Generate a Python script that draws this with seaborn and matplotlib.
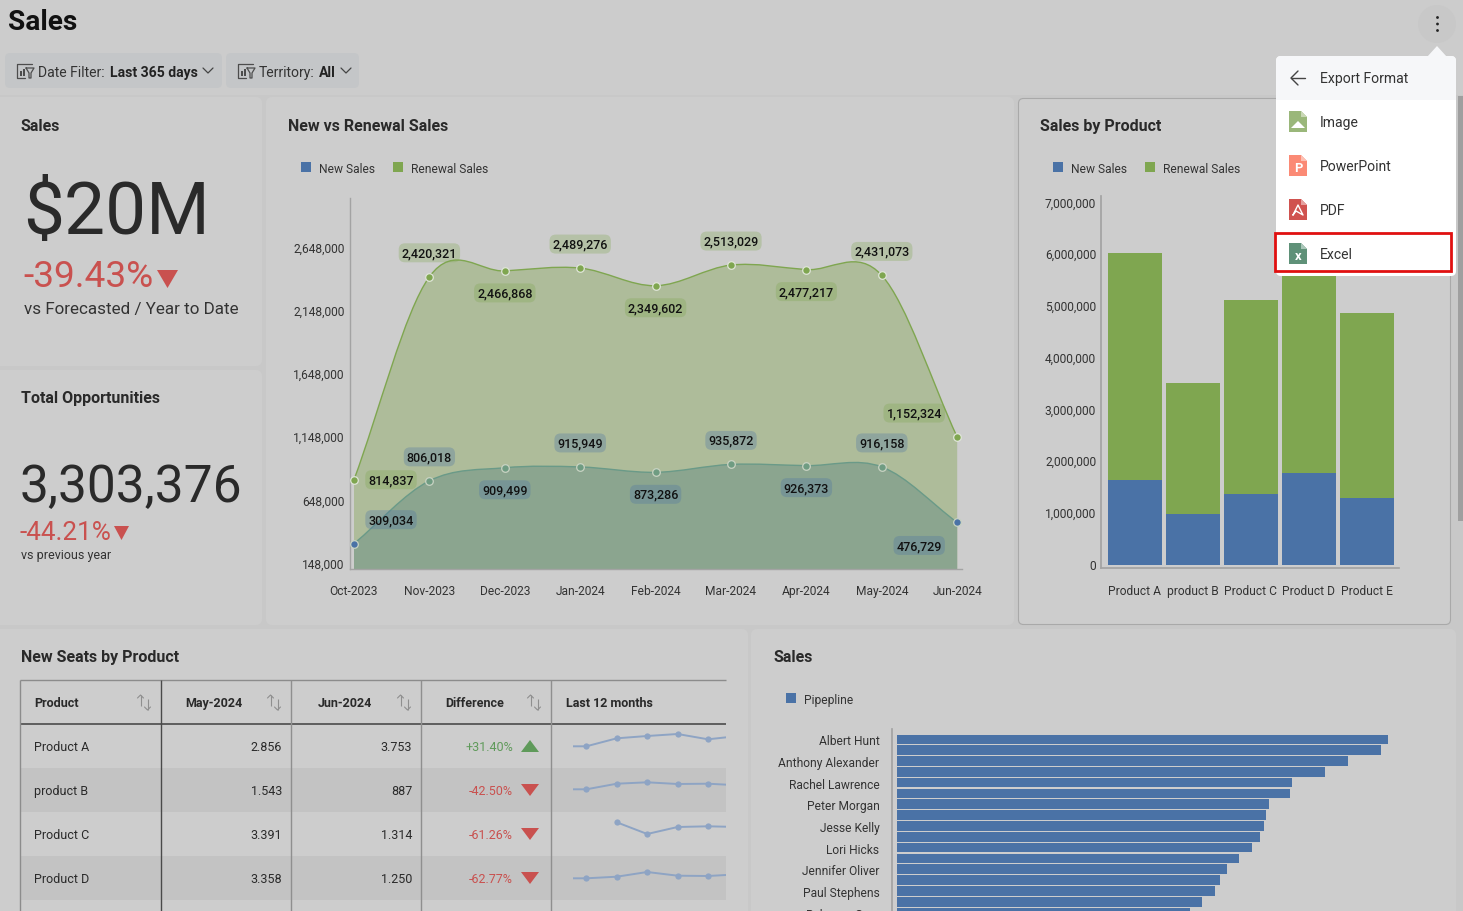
import numpy as np
import pandas as pd
import matplotlib
matplotlib.use("Agg")
import matplotlib.pyplot as plt
import seaborn as sns
from matplotlib.patches import FancyBboxPatch, PathPatch, Polygon, Rectangle, Circle
from matplotlib.path import Path
from matplotlib.transforms import ScaledTranslation


W, H = 1463, 912

months = ["Oct-2023", "Nov-2023", "Dec-2023", "Jan-2024", "Feb-2024",
          "Mar-2024", "Apr-2024", "May-2024", "Jun-2024"]
renewal_sales = [814837, 2420321, 2466868, 2489276, 2349602,
                 2513029, 2477217, 2431073, 1152324]
new_sales = [309034, 806018, 909499, 915949, 873286,
             935872, 926373, 916158, 476729]
area_ticks = [148000, 648000, 1148000, 1648000, 2148000, 2648000]

products = ["Product A", "product B", "Product C", "Product D", "Product E"]
product_new = [1644000, 986000, 1373000, 1780000, 1296000]
product_renewal = [4391000, 2534000, 3753000, 4120000, 3578000]
product_ticks = [0, 1000000, 2000000, 3000000, 4000000, 5000000, 6000000, 7000000]

table_products = ["Product A", "product B", "Product C", "Product D"]
may_seats = ["2.856", "1.543", "3.391", "3.358"]
jun_seats = ["3.753", "887", "1.314", "1.250"]
seat_diff = ["+31.40%", "-42.50%", "-61.26%", "-62.77%"]
table_headers = ["Product", "May-2024", "Jun-2024", "Difference", "Last 12 months"]

spark_a = [2.17, 2.17, 2.97, 3.20, 3.40, 2.87, 3.20]
spark_b = [2.27, 2.27, 2.83, 2.97, 2.80, 2.83, 2.67]
spark_c = [np.nan, np.nan, 3.37, 2.20, 2.90, 2.97, 2.90]
spark_d = [2.17, 2.17, 2.33, 2.80, 2.43, 2.40, 2.57]

pipeline = [491, 484, 451, 428, 395, 393, 372, 369, 367, 363,
            355, 342, 330, 323, 318, 305, 293]
pipeline_names = ["Albert Hunt", "Anthony Alexander", "Rachel Lawrence", "Peter Morgan",
                  "Jesse Kelly", "Lori Hicks", "Jennifer Oliver", "Paul Stephens", "Rebecca Gray"]

PAGE = "#c8c8c8"
PANEL = "#cdcdcd"
BLUE = "#4a72a6"
GREEN = "#7fa650"
RED = "#c9514f"
INK = "#2a2a2a"

sns.set_theme(style="white")
plt.rcParams["font.family"] = ["Roboto", "DejaVu Sans"]
plt.rcParams["axes.facecolor"] = "none"


def pt(px):
    return px * 0.72


def px_axes(fig, x0, y0, x1, y1, zorder=2):
    ax = fig.add_axes([x0 / W, 1 - y1 / H, (x1 - x0) / W, (y1 - y0) / H], zorder=zorder)
    ax.set_facecolor("none")
    return ax


def put(ax, x, y, s, size, color=INK, ha="left", weight="normal"):
    ax.text(x, y + 1.5, s, fontsize=pt(size), color=color, ha=ha, va="center", fontweight=weight)


def panel(ax, x0, y0, x1, y1, fc=PANEL, ec="none", r=6, lw=1, z=1):
    ax.add_patch(FancyBboxPatch((x0 + r, y0 + r), x1 - x0 - 2 * r, y1 - y0 - 2 * r,
                                boxstyle=f"round,pad={r},rounding_size={r}",
                                fc=fc, ec=ec, lw=lw, zorder=z))


def hline(ax, x0, x1, y, color, lw=1.0, z=3):
    ax.plot([x0, x1], [y, y], color=color, lw=lw, zorder=z, solid_capstyle="butt")


def vline(ax, x, y0, y1, color, lw=1.0, z=3):
    ax.plot([x, x], [y0, y1], color=color, lw=lw, zorder=z, solid_capstyle="butt")


def tri(ax, x0, x1, y0, y1, color, up=False):
    mid = (x0 + x1) / 2
    pts = [(x0, y1), (x1, y1), (mid, y0)] if up else [(x0, y0), (x1, y0), (mid, y1)]
    ax.add_patch(Polygon(pts, fc=color, ec="none", zorder=4))


def legend_item(ax, x, y, label, color):
    ax.add_patch(Rectangle((x, y - 5), 10, 10, fc=color, ec="none", zorder=3))
    put(ax, x + 18, y, label, 12, "#333333")


def smooth_path(y, base=None):
    # catmull-rom tangents turned into bezier segments, the curve still only goes
    # through the real values
    y = np.asarray(y, dtype=float)
    m = np.zeros(len(y))
    m[1:-1] = (y[2:] - y[:-2]) / 2
    m[0] = y[1] - y[0]
    m[-1] = y[-1] - y[-2]
    verts = [(0, y[0])]
    codes = [Path.MOVETO]
    for i in range(len(y) - 1):
        verts += [(i + 1 / 3, y[i] + m[i] / 3), (i + 2 / 3, y[i + 1] - m[i + 1] / 3), (i + 1, y[i + 1])]
        codes += [Path.CURVE4] * 3
    if base is not None:
        verts += [(len(y) - 1, base), (0, base), (0, y[0])]
        codes += [Path.LINETO, Path.LINETO, Path.LINETO]
    return Path(verts, codes)


def sort_icon(ax, x, y):
    c = "#8f8f8f"
    vline(ax, x - 3.5, y - 7, y + 4, c, 0.8)
    ax.plot([x - 6.5, x - 3.5, x - 0.5], [y - 4, y - 7, y - 4], color=c, lw=0.8, zorder=3)
    vline(ax, x + 3.5, y - 3, y + 8, c, 0.8)
    ax.plot([x + 0.5, x + 3.5, x + 6.5], [y + 5, y + 8, y + 5], color=c, lw=0.8, zorder=3)


def filter_icon(ax, x, y):
    c = "#4d4d4d"
    ax.plot([x + 15, x, x, x + 8], [y - 7, y - 7, y + 7, y + 7], color=c, lw=0.9, zorder=3)
    ax.add_patch(Rectangle((x + 3, y), 2, 5, fc=c, ec="none", zorder=3))
    ax.add_patch(Rectangle((x + 6, y - 2), 2, 7, fc=c, ec="none", zorder=3))
    ax.plot([x + 9, x + 17, x + 14, x + 14, x + 12, x + 12, x + 9],
            [y - 3, y - 3, y + 2, y + 7, y + 7, y + 2, y - 3], color=c, lw=0.9, zorder=3)


def file_icon(ax, y, color, fold, glyph):
    x = 1289
    ax.add_patch(Polygon([(x, y), (x + 12, y), (x + 18, y + 6), (x + 18, y + 21), (x, y + 21)],
                         fc=color, ec="none", zorder=12))
    ax.add_patch(Polygon([(x + 12, y), (x + 18, y + 6), (x + 12, y + 6)], fc=fold, ec="none", zorder=13))
    if glyph:
        ax.text(x + 9, y + 13, glyph, fontsize=pt(13), color="white", ha="center", va="center",
                fontweight="bold", zorder=13)


def center_ytick_labels(ax, up_px=0):
    nudge = ScaledTranslation(0, up_px / 100, ax.figure.dpi_scale_trans)
    for lab in ax.get_yticklabels():
        lab.set_verticalalignment("center_baseline")
        lab.set_transform(lab.get_transform() + nudge)


fig = plt.figure(figsize=(W / 100, H / 100), dpi=100, facecolor=PAGE)

# background layer in pixel coordinates
bg = px_axes(fig, 0, 0, W, H, zorder=0)
bg.set_xlim(0, W)
bg.set_ylim(H, 0)
bg.axis("off")
bg.add_patch(Rectangle((0, 0), W, 96, fc="#cccccc", ec="none", zorder=0))

panel(bg, -8, 98, 262, 367)
panel(bg, -8, 371, 262, 626)
panel(bg, 266, 98, 1014, 626)
panel(bg, 1018.5, 99.5, 1450.5, 625.5, ec="#a9a9a9", lw=0.8, r=5)
panel(bg, -8, 630, 748, 940)
panel(bg, 751, 630, 1456, 940)

put(bg, 8, 21.5, "Sales", 28, "#111111", weight="bold")

panel(bg, 5, 54, 222, 89, fc="#c4c6c8", r=5)
panel(bg, 226, 54, 359, 89, fc="#c4c6c8", r=5)
filter_icon(bg, 17, 72)
put(bg, 38, 71.3, "Date Filter:", 14, "#333333")
put(bg, 110, 71.3, "Last 365 days", 14, "#222222", weight="bold")
bg.plot([203, 208, 213], [69, 74, 69], color="#444444", lw=0.9)
filter_icon(bg, 238, 72)
put(bg, 259, 71.3, "Territory:", 14, "#333333")
put(bg, 319, 71.3, "All", 14, "#222222", weight="bold")
bg.plot([341, 346, 351], [69, 74, 69], color="#444444", lw=0.9)

# kpi cards
put(bg, 20.5, 125, "Sales", 16, INK, weight="bold")
put(bg, 23, 213, "$20M", 73)
put(bg, 23, 276, "-39.43%", 37, RED)
tri(bg, 157, 178, 271, 289, RED)
put(bg, 24, 308.5, "vs Forecasted / Year to Date", 17, "#333333")

put(bg, 21, 397, "Total Opportunities", 16, INK, weight="bold")
put(bg, 20, 486.5, "3,303,376", 51.5)
put(bg, 20, 532, "-44.21%", 26, RED)
tri(bg, 114, 129, 527, 541, RED)
put(bg, 21, 554.5, "vs previous year", 12.5, "#333333")

put(bg, 288, 125, "New vs Renewal Sales", 16, INK, weight="bold")
legend_item(bg, 301, 168, "New Sales", BLUE)
legend_item(bg, 393, 168, "Renewal Sales", GREEN)

put(bg, 1040, 125, "Sales by Product", 16, INK, weight="bold")
legend_item(bg, 1053, 168, "New Sales", BLUE)
legend_item(bg, 1145, 168, "Renewal Sales", GREEN)

put(bg, 21, 656, "New Seats by Product", 16, INK, weight="bold")
put(bg, 773, 656, "Sales", 16, INK, weight="bold")
legend_item(bg, 786, 699, "Pipepline", BLUE)

# new vs renewal area chart
ax = px_axes(fig, 350, 199, 962, 570)
ax.set_xlim(-4 / 75.4, 608 / 75.4)
ax.set_ylim(108500, 3043700)
idx = np.arange(len(months))
base = ax.get_ylim()[0]
ax.add_patch(PathPatch(smooth_path(renewal_sales, base), fc="#aebc9a", ec="none", zorder=1))
ax.add_patch(PathPatch(smooth_path(new_sales, base), fc="#8ba58f", ec="none", zorder=2))
ax.add_patch(PathPatch(smooth_path(renewal_sales), fc="none", ec=GREEN, lw=1.0, zorder=3))
ax.add_patch(PathPatch(smooth_path(new_sales), fc="none", ec="#6a9a88", lw=1.0, zorder=3))

area_df = pd.DataFrame({"i": idx, "renewal": renewal_sales, "new": new_sales})
sns.scatterplot(data=area_df, x="i", y="renewal", color=GREEN, s=30, edgecolor="#dfe5d8",
                linewidth=0.9, zorder=5, clip_on=False, ax=ax)
inner = area_df.iloc[1:-1]
ends = area_df.iloc[[0, -1]]
sns.scatterplot(data=inner, x="i", y="new", color="#6f9c82", s=30, edgecolor="#c9d3c3",
                linewidth=0.9, zorder=5, ax=ax)
sns.scatterplot(data=ends, x="i", y="new", color=BLUE, s=30, edgecolor="#c9d3c3",
                linewidth=0.9, zorder=5, clip_on=False, ax=ax)

renewal_off = [(37, 0), (0, 24), (0, -22), (0, 24), (0, -22), (0, 24), (0, -22), (0, 24), (-43, 24)]
new_off = [(37, 24), (0, 24), (0, -22), (0, 24), (0, -22), (0, 24), (0, -22), (0, 24), (-38, -23)]
for vals, offs, col in [(renewal_sales, renewal_off, GREEN), (new_sales, new_off, BLUE)]:
    for i, (v, off) in enumerate(zip(vals, offs)):
        ax.annotate(f"{v:,}", (i, v), xytext=off, textcoords="offset pixels", ha="center", va="center",
                    fontsize=pt(12.5), fontweight="medium", color="#111111", zorder=6,
                    bbox=dict(boxstyle="round,pad=0.24,rounding_size=0.5",
                              fc=matplotlib.colors.to_rgba(col, 0.3), ec="none"))

ax.set_xticks(idx, months)
ax.set_yticks(area_ticks, [f"{t:,}" for t in area_ticks])
ax.set_xlabel("")
ax.set_ylabel("")
ax.tick_params(axis="both", length=0, labelsize=pt(12), labelcolor="#333333")
ax.tick_params(axis="x", pad=10.5)
ax.tick_params(axis="y", pad=4)
center_ytick_labels(ax, 1.5)
sns.despine(ax=ax)
for s in ["left", "bottom"]:
    ax.spines[s].set_color("#a3a3a3")
    ax.spines[s].set_linewidth(1)

# sales by product stacked bars
ax2 = px_axes(fig, 1101, 197, 1399, 569)
prod_df = pd.DataFrame({"product": products, "new": product_new, "renewal": product_renewal})
sns.barplot(data=prod_df, x="product", y="renewal", bottom=prod_df["new"], color=GREEN,
            saturation=1, width=54 / 58, linewidth=0, ax=ax2)
sns.barplot(data=prod_df, x="product", y="new", color=BLUE, saturation=1, width=54 / 58,
            linewidth=0, ax=ax2)
ax2.set_xlim(-34 / 58, 264 / 58)
ax2.set_ylim(-58000, 7135000)
ax2.set_yticks(product_ticks, [f"{t:,}" for t in product_ticks])
ax2.set_xlabel("")
ax2.set_ylabel("")
ax2.tick_params(axis="both", length=0, labelsize=pt(12), labelcolor="#333333")
ax2.tick_params(axis="x", pad=11.5)
ax2.tick_params(axis="y", pad=3.5)
center_ytick_labels(ax2, 1.5)
sns.despine(ax=ax2)
for s in ["left", "bottom"]:
    ax2.spines[s].set_color("#a3a3a3")

# pipeline horizontal bars, runs past the bottom of the page
ax3 = px_axes(fig, 892, 730, 1440, 925)
pipe_df = pd.DataFrame({"rep": np.arange(len(pipeline)), "pipeline": pipeline})
sns.barplot(data=pipe_df, y="rep", x="pipeline", orient="h", color=BLUE, saturation=1,
            width=9.6 / 10.83, linewidth=0, ax=ax3)
ax3.set_xlim(-5, 543)
ax3.set_ylim((925 - 740.3) / 10.83, -(740.3 - 730) / 10.83)
ax3.set_yticks(np.arange(0, 17, 2), pipeline_names)
ax3.set_xticks([])
ax3.set_xlabel("")
ax3.set_ylabel("")
ax3.tick_params(axis="y", length=0, labelsize=pt(12), labelcolor="#333333", pad=9)
center_ytick_labels(ax3)
sns.despine(ax=ax3, bottom=True)
ax3.spines["left"].set_color("#a3a3a3")

# table
bg.add_patch(Rectangle((20, 769), 706, 44, fc="#c3c3c3", ec="none", zorder=2))
bg.add_patch(Rectangle((20, 857), 706, 44, fc="#c3c3c3", ec="none", zorder=2))
hline(bg, 20, 726, 681, "#8c8c8c")
hline(bg, 20, 726, 724.5, "#555555", 1.3)
vline(bg, 20, 681, 912, "#8c8c8c")
vline(bg, 161, 681, 912, "#4a4a4a")
for x in [291, 421, 551]:
    vline(bg, x, 681, 912, "#8f8f8f")

put(bg, 34, 702, table_headers[0], 12.5, INK, weight="bold")
put(bg, 243, 702, table_headers[1], 12.5, INK, ha="right", weight="bold")
put(bg, 372, 702, table_headers[2], 12.5, INK, ha="right", weight="bold")
put(bg, 504, 702, table_headers[3], 12.5, INK, ha="right", weight="bold")
put(bg, 566, 702, table_headers[4], 12.5, INK, weight="bold")
for x in [144, 274, 404, 534]:
    sort_icon(bg, x, 703)

sparks = [spark_a, spark_b, spark_c, spark_d]
for r in range(len(table_products)):
    y = 746 + 44 * r
    put(bg, 34, y, table_products[r], 12.5)
    put(bg, 282, y, may_seats[r], 12.5, ha="right")
    put(bg, 412, y, jun_seats[r], 12.5, ha="right")
    up = seat_diff[r].startswith("+")
    col = "#5f9a5a" if up else RED
    put(bg, 513, y, seat_diff[r], 12.5, col, ha="right")
    tri(bg, 521, 539, y - 5, y + 7, col, up=up)

    sp = px_axes(fig, 573, 725 + 44 * r, 726, 769 + 44 * r, zorder=3)
    sp_df = pd.DataFrame({"i": np.arange(7), "v": sparks[r]})
    sns.lineplot(data=sp_df, x="i", y="v", color="#8ea4c4", lw=1.4, marker="o", markersize=4.5,
                 markeredgewidth=0, ax=sp)
    sp.set_xlim(17 / 30.4, 170 / 30.4)
    sp.set_ylim(0, 4.4)
    sp.axis("off")

# export menu on top of everything
top = px_axes(fig, 0, 0, W, H, zorder=10)
top.set_xlim(0, W)
top.set_ylim(H, 0)
top.axis("off")

top.add_patch(Rectangle((1458, 97), 5, 425, fc="#9f9f9f", ec="none", zorder=1))
top.add_patch(Circle((1437, 25), 19, fc="#c8c8c8", ec="none", zorder=2))
for dy in [-6.5, 0, 6.5]:
    top.add_patch(Circle((1437.5, 25 + dy), 1.4, fc="#222222", ec="none", zorder=3))

top.add_patch(Polygon([(1427, 58), (1437, 47), (1447, 58)], fc="#f6f7f9", ec="none", zorder=10))
panel(top, 1276, 57, 1456, 277, fc="white", r=5, z=10)
panel(top, 1276, 57, 1456, 108, fc="#f6f7f9", r=5, z=10)
top.add_patch(Rectangle((1276, 101), 180, 12, fc="white", ec="none", zorder=10))

top.plot([1305, 1291], [79, 79], color="#444444", lw=1, zorder=12)
top.plot([1298, 1291, 1298], [72, 79, 86], color="#444444", lw=1, zorder=12)
menu_labels = ["Export Format", "Image", "PowerPoint", "PDF", "Excel"]
for i, lab in enumerate(menu_labels):
    top.text(1320, 79 + 44 * i, lab, fontsize=pt(14), color="#333333", va="center", zorder=12)

file_icon(top, 112, "#9ab77a", "#c9d8b5", "")
top.add_patch(Polygon([(1291, 129), (1298, 122), (1305, 129)], fc="white", ec="none", zorder=13))
file_icon(top, 156, "#fb8a75", "#fdc0b3", "P")
file_icon(top, 200, "#d0524f", "#e6a09e", "")
top.plot([1293, 1298, 1303, 1296, 1293], [216, 206, 216, 212, 216], color="white", lw=1, zorder=13)
file_icon(top, 244, "#5f9178", "#a9c6b8", "x")

top.add_patch(Rectangle((1275, 233.5), 176, 38.5, fc="none", ec="#e01010", lw=2, zorder=14))

fig.savefig("out.png", dpi=100, facecolor=PAGE)
